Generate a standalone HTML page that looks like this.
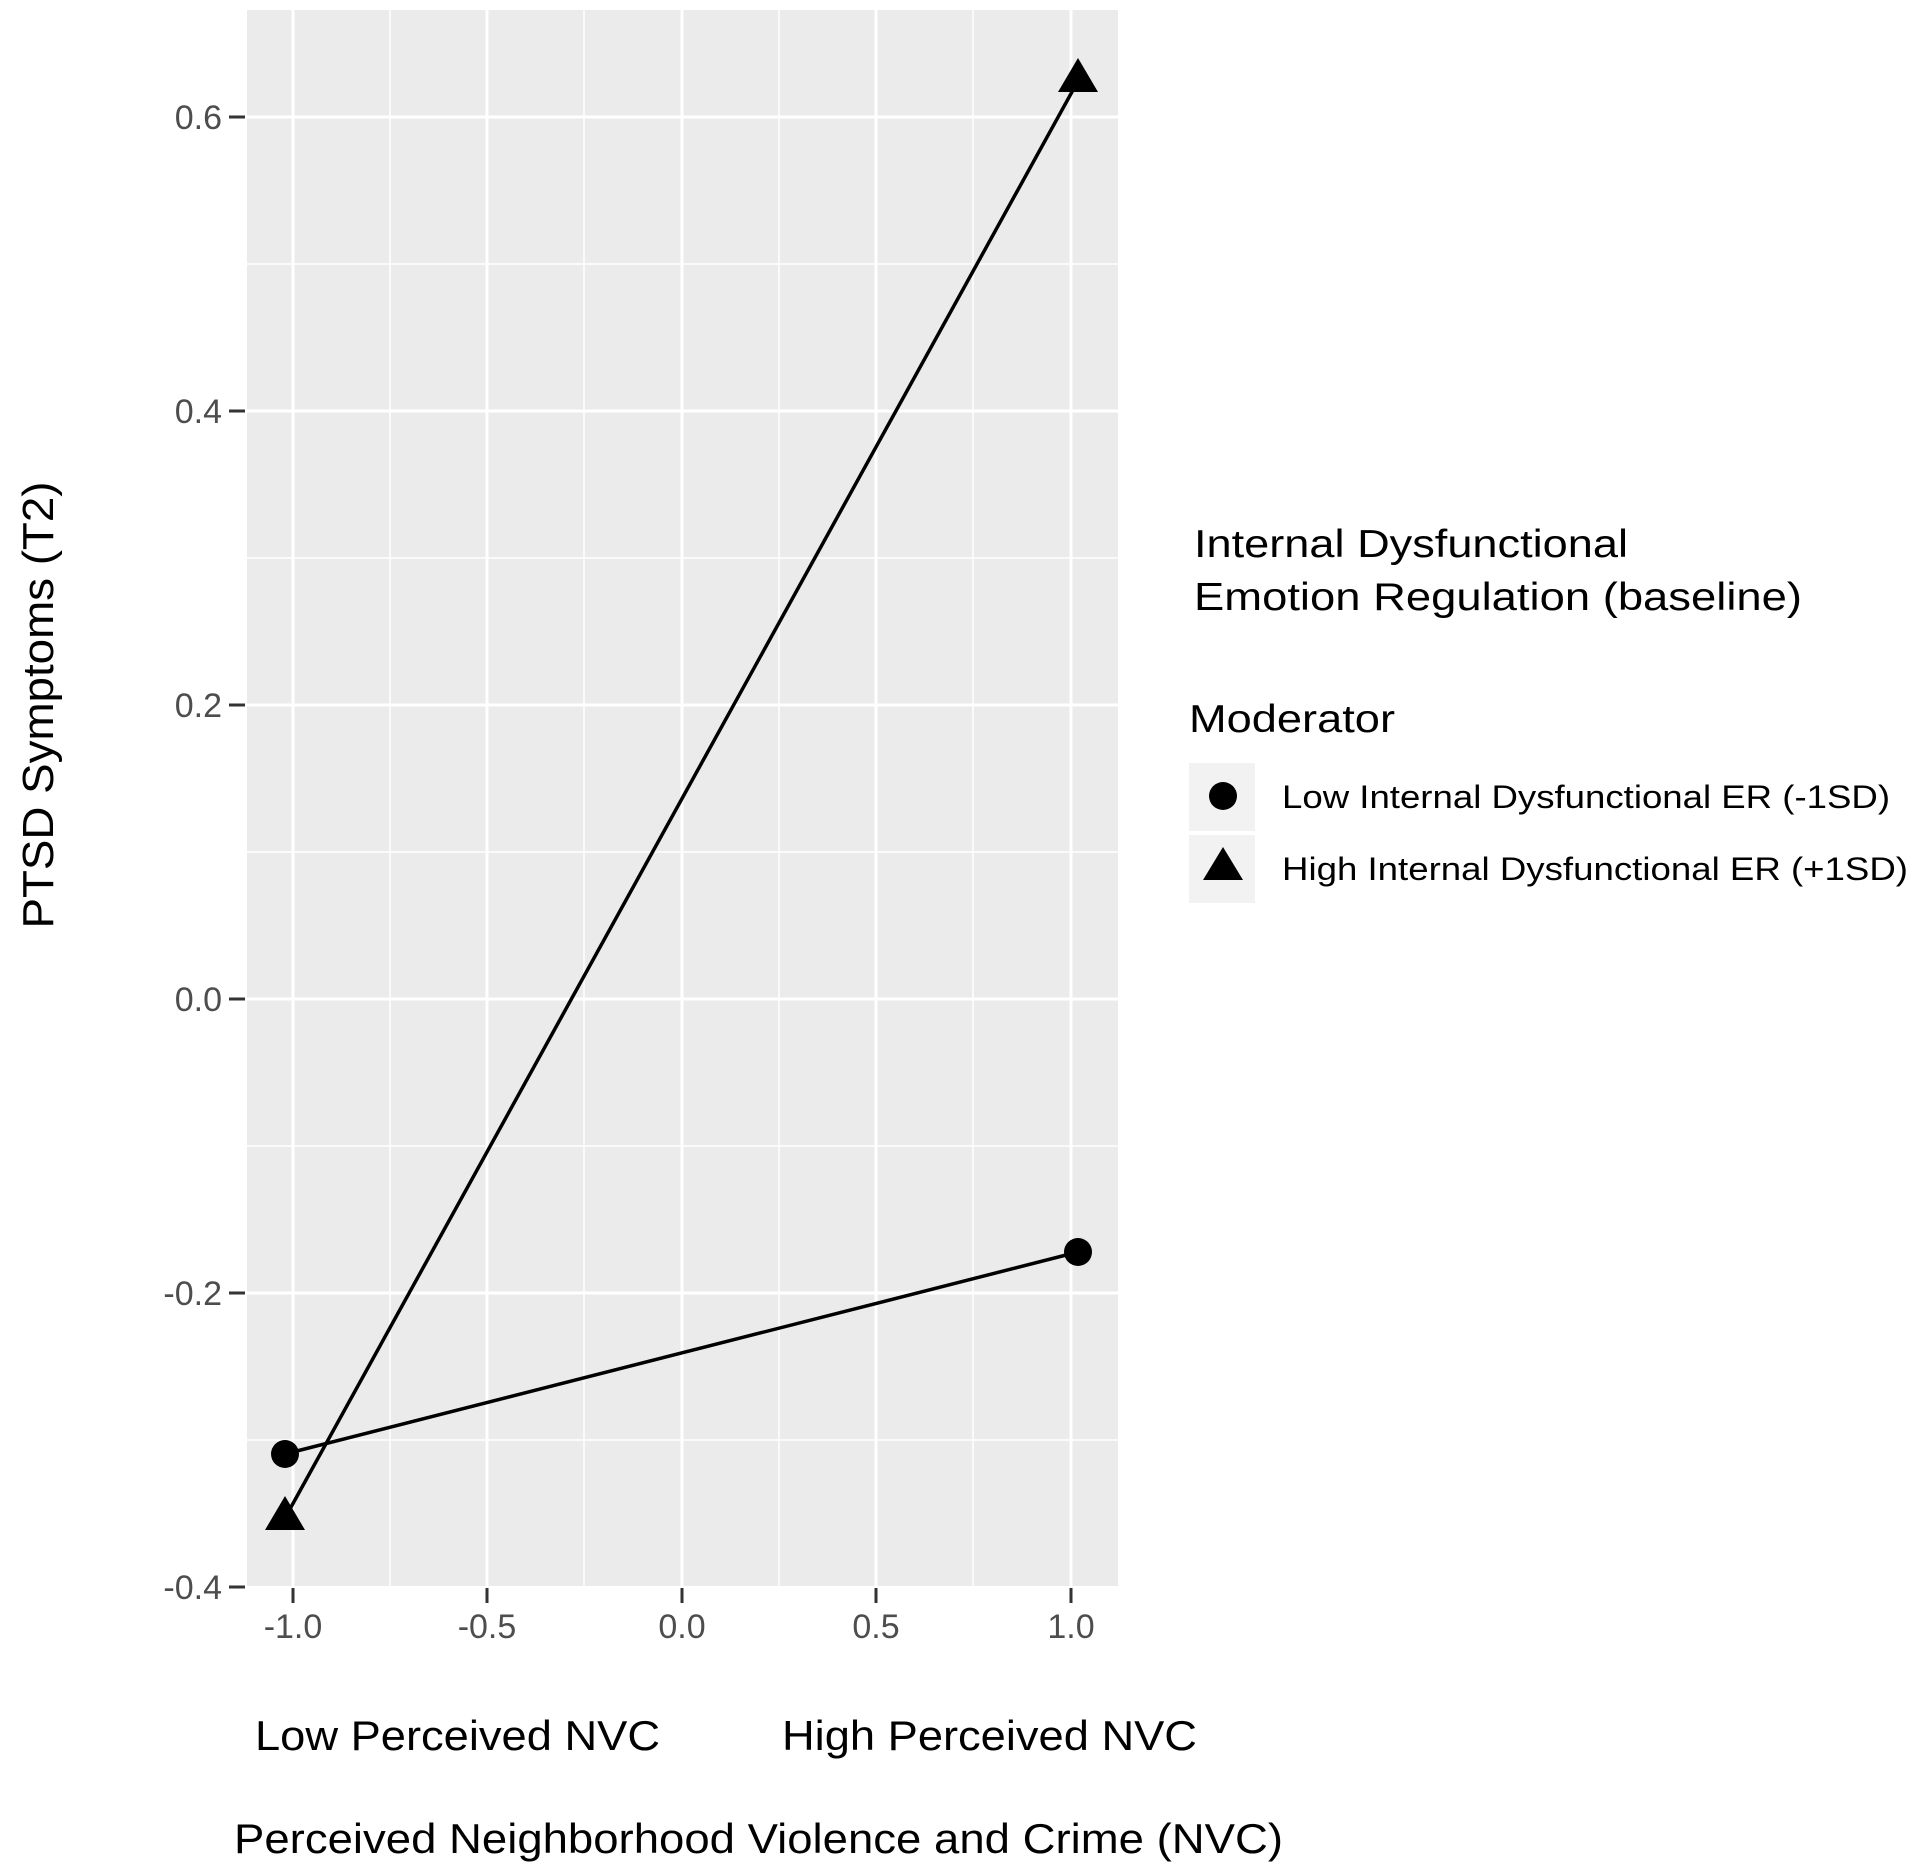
<!DOCTYPE html>
<html><head><meta charset="utf-8"><style>html,body{margin:0;padding:0;background:#fff}svg{display:block}</style></head>
<body>
<svg width="1920" height="1870" viewBox="0 0 1920 1870" xmlns="http://www.w3.org/2000/svg" font-family="Liberation Sans, Arial, sans-serif">
<rect x="0" y="0" width="1920" height="1870" fill="#fff"/>
<rect x="247" y="10" width="871" height="1576" fill="#ebebeb"/>
<g stroke="#fff" stroke-width="1.5">
<line x1="247" x2="1118" y1="264" y2="264"/><line x1="247" x2="1118" y1="558" y2="558"/><line x1="247" x2="1118" y1="852" y2="852"/><line x1="247" x2="1118" y1="1146" y2="1146"/><line x1="247" x2="1118" y1="1440" y2="1440"/>
<line y1="10" y2="1586" x1="390" x2="390"/><line y1="10" y2="1586" x1="584" x2="584"/><line y1="10" y2="1586" x1="779" x2="779"/><line y1="10" y2="1586" x1="973" x2="973"/>
</g>
<g stroke="#fff" stroke-width="3">
<line x1="247" x2="1118" y1="117" y2="117"/><line x1="247" x2="1118" y1="411" y2="411"/><line x1="247" x2="1118" y1="705" y2="705"/><line x1="247" x2="1118" y1="999" y2="999"/><line x1="247" x2="1118" y1="1293" y2="1293"/>
<line y1="10" y2="1586" x1="293" x2="293"/><line y1="10" y2="1586" x1="487" x2="487"/><line y1="10" y2="1586" x1="682" x2="682"/><line y1="10" y2="1586" x1="876" x2="876"/><line y1="10" y2="1586" x1="1071" x2="1071"/>
</g>
<g stroke="#333" stroke-width="3">
<line x1="229" x2="245" y1="117" y2="117"/><line x1="229" x2="245" y1="411" y2="411"/><line x1="229" x2="245" y1="705" y2="705"/><line x1="229" x2="245" y1="999" y2="999"/><line x1="229" x2="245" y1="1293" y2="1293"/><line x1="229" x2="245" y1="1587" y2="1587"/>
<line y1="1588" y2="1603" x1="293" x2="293"/><line y1="1588" y2="1603" x1="487" x2="487"/><line y1="1588" y2="1603" x1="682" x2="682"/><line y1="1588" y2="1603" x1="876" x2="876"/><line y1="1588" y2="1603" x1="1071" x2="1071"/>
</g>
<g fill="#4d4d4d" font-size="34" text-anchor="end">
<text x="222" y="129">0.6</text><text x="222" y="423">0.4</text><text x="222" y="717">0.2</text><text x="222" y="1011">0.0</text><text x="222" y="1305">-0.2</text><text x="222" y="1599">-0.4</text>
</g>
<g fill="#4d4d4d" font-size="34" text-anchor="middle">
<text x="293" y="1638">-1.0</text><text x="487" y="1638">-0.5</text><text x="682" y="1638">0.0</text><text x="876" y="1638">0.5</text><text x="1071" y="1638">1.0</text>
</g>
<g stroke="#000" stroke-width="3.5">
<line x1="285" y1="1454" x2="1078" y2="1252"/>
<line x1="285" y1="1518" x2="1078" y2="81"/>
</g>
<circle cx="285" cy="1454" r="14" fill="#000"/>
<circle cx="1078" cy="1252" r="14" fill="#000"/>
<polygon points="285,1496 265,1530 305,1530" fill="#000"/>
<polygon points="1078,58 1058,92 1098,92" fill="#000"/>
<text transform="translate(53,705) rotate(-90)" font-size="44" text-anchor="middle" textLength="447" lengthAdjust="spacingAndGlyphs" fill="#000">PTSD Symptoms (T2)</text>
<text x="255" y="1750" font-size="42" textLength="405" lengthAdjust="spacingAndGlyphs">Low Perceived NVC</text>
<text x="782" y="1750" font-size="42" textLength="415" lengthAdjust="spacingAndGlyphs">High Perceived NVC</text>
<text x="234" y="1853" font-size="42" textLength="1049" lengthAdjust="spacingAndGlyphs">Perceived Neighborhood Violence and Crime (NVC)</text>
<text x="1194" y="557" font-size="39" textLength="434" lengthAdjust="spacingAndGlyphs">Internal Dysfunctional</text>
<text x="1194" y="610" font-size="39" textLength="608" lengthAdjust="spacingAndGlyphs">Emotion Regulation (baseline)</text>
<text x="1189" y="732" font-size="39" textLength="206" lengthAdjust="spacingAndGlyphs">Moderator</text>
<rect x="1189" y="763" width="66" height="68" fill="#f2f2f2"/>
<rect x="1189" y="835" width="66" height="68" fill="#f2f2f2"/>
<circle cx="1223" cy="796" r="14" fill="#000"/>
<polygon points="1223,847 1203,880 1243,880" fill="#000"/>
<text x="1282" y="808" font-size="32" textLength="608" lengthAdjust="spacingAndGlyphs">Low Internal Dysfunctional ER (-1SD)</text>
<text x="1282" y="880" font-size="32" textLength="626" lengthAdjust="spacingAndGlyphs">High Internal Dysfunctional ER (+1SD)</text>
</svg>
</body></html>
